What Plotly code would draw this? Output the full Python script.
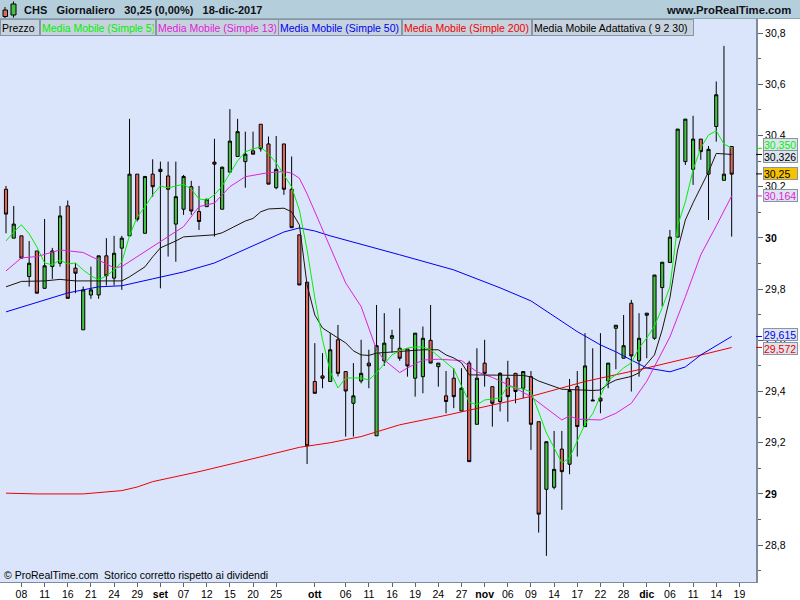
import plotly.graph_objects as go

# ---------------- data ----------------
dates = [
    "2017-08-04", "2017-08-07", "2017-08-08", "2017-08-09", "2017-08-10", "2017-08-11", "2017-08-14", "2017-08-15",
    "2017-08-16", "2017-08-17", "2017-08-18", "2017-08-21", "2017-08-22", "2017-08-23", "2017-08-24", "2017-08-25",
    "2017-08-28", "2017-08-29", "2017-08-30", "2017-08-31", "2017-09-01", "2017-09-05", "2017-09-06", "2017-09-07",
    "2017-09-08", "2017-09-11", "2017-09-12", "2017-09-13", "2017-09-14", "2017-09-15", "2017-09-18", "2017-09-19",
    "2017-09-20", "2017-09-21", "2017-09-22", "2017-09-25", "2017-09-26", "2017-09-27", "2017-09-28", "2017-09-29",
    "2017-10-02", "2017-10-03", "2017-10-04", "2017-10-05", "2017-10-06", "2017-10-09", "2017-10-10", "2017-10-11",
    "2017-10-12", "2017-10-13", "2017-10-16", "2017-10-17", "2017-10-18", "2017-10-19", "2017-10-20", "2017-10-23",
    "2017-10-24", "2017-10-25", "2017-10-26", "2017-10-27", "2017-10-30", "2017-10-31", "2017-11-01", "2017-11-02",
    "2017-11-03", "2017-11-06", "2017-11-07", "2017-11-08", "2017-11-09", "2017-11-10", "2017-11-13", "2017-11-14",
    "2017-11-15", "2017-11-16", "2017-11-17", "2017-11-20", "2017-11-21", "2017-11-22", "2017-11-24", "2017-11-27",
    "2017-11-28", "2017-11-29", "2017-11-30", "2017-12-01", "2017-12-04", "2017-12-05", "2017-12-06", "2017-12-07",
    "2017-12-08", "2017-12-11", "2017-12-12", "2017-12-13", "2017-12-14", "2017-12-15", "2017-12-18",
]

opens = [
    30.190, 29.999, 30.008, 29.849, 29.949, 29.803, 29.888, 29.901, 30.125, 29.882,
    29.641, 29.777, 29.777, 29.930, 29.843, 29.960, 30.008, 30.249, 30.018, 30.249,
    30.268, 30.242, 30.054, 30.112, 30.200, 30.103, 30.122, 30.296, 30.112, 30.257,
    30.318, 30.298, 30.340, 30.444, 30.367, 30.196, 30.367, 30.190, 30.012, 29.827,
    29.439, 29.461, 29.439, 29.602, 29.478, 29.354, 29.441, 29.511, 29.227, 29.520,
    29.608, 29.569, 29.566, 29.452, 29.458, 29.600, 29.497, 29.383, 29.452, 29.324,
    29.511, 29.272, 29.511, 29.419, 29.361, 29.452, 29.471, 29.413, 29.458, 29.282,
    29.018, 29.026, 29.175, 29.116, 29.419, 29.263, 29.363, 29.374, 29.441, 29.647,
    29.530, 29.745, 29.520, 29.698, 29.608, 29.806, 29.904, 30.003, 30.298, 30.268,
    30.386, 30.249, 30.435, 30.225, 30.357,
]
highs = [
    30.203, 30.125, 30.008, 29.988, 29.949, 30.074, 29.961, 30.125, 30.146, 29.901,
    29.810, 29.888, 29.930, 29.999, 30.008, 30.008, 30.465, 30.249, 30.240, 30.307,
    30.298, 30.298, 30.298, 30.246, 30.223, 30.203, 30.151, 30.387, 30.279, 30.503,
    30.465, 30.415, 30.415, 30.444, 30.396, 30.398, 30.367, 30.318, 30.012, 29.827,
    29.589, 29.550, 29.628, 29.660, 29.478, 29.511, 29.602, 29.563, 29.738, 29.706,
    29.641, 29.725, 29.566, 29.628, 29.654, 29.738, 29.511, 29.480, 29.491, 29.491,
    29.520, 29.569, 29.602, 29.419, 29.475, 29.520, 29.471, 29.480, 29.480, 29.282,
    29.204, 29.246, 29.246, 29.449, 29.480, 29.628, 29.569, 29.628, 29.511, 29.659,
    29.699, 29.758, 29.706, 29.706, 29.855, 29.905, 30.031, 30.425, 30.464, 30.477,
    30.386, 30.359, 30.611, 30.750, 30.357,
]
lows = [
    30.018, 29.999, 29.921, 29.810, 29.784, 29.803, 29.840, 29.888, 29.764, 29.784,
    29.641, 29.762, 29.762, 29.814, 29.814, 29.797, 30.008, 30.064, 30.018, 30.161,
    29.803, 29.927, 29.907, 30.090, 30.090, 30.031, 30.122, 30.005, 30.112, 30.257,
    30.318, 30.196, 30.327, 30.337, 30.210, 30.190, 30.168, 30.040, 29.816, 29.117,
    29.393, 29.413, 29.439, 29.459, 29.224, 29.224, 29.432, 29.413, 29.227, 29.500,
    29.552, 29.520, 29.458, 29.380, 29.393, 29.511, 29.419, 29.315, 29.335, 29.324,
    29.126, 29.272, 29.419, 29.263, 29.322, 29.282, 29.354, 29.374, 29.172, 28.849,
    28.758, 29.018, 28.938, 29.077, 29.146, 29.263, 29.363, 29.315, 29.413, 29.487,
    29.530, 29.400, 29.458, 29.530, 29.602, 29.732, 29.904, 30.003, 30.285, 30.207,
    30.305, 30.070, 30.376, 30.225, 30.005,
]
closes = [
    30.093, 30.054, 29.921, 29.901, 29.784, 29.891, 29.949, 30.086, 29.764, 29.862,
    29.797, 29.797, 29.930, 29.852, 29.940, 29.999, 30.249, 30.073, 30.240, 30.200,
    30.259, 30.190, 30.161, 30.240, 30.105, 30.064, 30.151, 30.288, 30.276, 30.378,
    30.415, 30.327, 30.327, 30.348, 30.210, 30.268, 30.190, 30.040, 29.816, 29.188,
    29.393, 29.452, 29.563, 29.471, 29.402, 29.383, 29.471, 29.500, 29.579, 29.589,
    29.618, 29.530, 29.500, 29.628, 29.608, 29.511, 29.511, 29.361, 29.380, 29.413,
    29.126, 29.452, 29.471, 29.354, 29.471, 29.380, 29.400, 29.478, 29.272, 28.921,
    29.204, 29.096, 29.087, 29.404, 29.263, 29.500, 29.366, 29.363, 29.511, 29.659,
    29.579, 29.539, 29.608, 29.706, 29.855, 29.905, 30.003, 30.425, 30.464, 30.386,
    30.337, 30.346, 30.559, 30.249, 30.249,
]

# Simple 5 (read at every session)
ma5 = [
    29.988, 30.023, 30.051, 30.016, 29.965, 29.902, 29.895, 29.914, 29.898, 29.902,
    29.875, 29.852, 29.836, 29.852, 29.875, 29.906, 30.008, 30.082, 30.121, 30.168,
    30.203, 30.195, 30.203, 30.209, 30.191, 30.152, 30.148, 30.168, 30.203, 30.250,
    30.301, 30.336, 30.348, 30.355, 30.328, 30.293, 30.246, 30.199, 30.109, 29.953,
    29.766, 29.602, 29.477, 29.414, 29.453, 29.453, 29.453, 29.445, 29.473, 29.508,
    29.543, 29.559, 29.570, 29.574, 29.574, 29.563, 29.539, 29.512, 29.488, 29.422,
    29.359, 29.348, 29.367, 29.371, 29.375, 29.422, 29.414, 29.410, 29.398, 29.320,
    29.238, 29.180, 29.121, 29.141, 29.207, 29.273, 29.313, 29.383, 29.445, 29.465,
    29.492, 29.512, 29.570, 29.609, 29.656, 29.727, 29.809, 30.047, 30.141, 30.266,
    30.352, 30.402, 30.418, 30.367, 30.350,
]

# Simple 13 (read at selected sessions)
ma13_dates = [
    "2017-08-04", "2017-08-08", "2017-08-10", "2017-08-15", "2017-08-18", "2017-08-22", "2017-08-24", "2017-08-25",
    "2017-08-30", "2017-09-01", "2017-09-07", "2017-09-11", "2017-09-13", "2017-09-15", "2017-09-19", "2017-09-22",
    "2017-09-26", "2017-09-27", "2017-09-28", "2017-09-29", "2017-10-02", "2017-10-04", "2017-10-06", "2017-10-10",
    "2017-10-12", "2017-10-13", "2017-10-17", "2017-10-18", "2017-10-20", "2017-10-24", "2017-10-27", "2017-10-31",
    "2017-11-02", "2017-11-07", "2017-11-09", "2017-11-15", "2017-11-16", "2017-11-17", "2017-11-22", "2017-11-27",
    "2017-11-29", "2017-12-01", "2017-12-06", "2017-12-08", "2017-12-12", "2017-12-14", "2017-12-18",
]
ma13_values = [
    29.871, 29.922, 29.927, 29.953, 29.943, 29.914, 29.883, 29.888,
    29.946, 29.986, 30.044, 30.122, 30.136, 30.200, 30.239, 30.255,
    30.259, 30.253, 30.233, 30.172, 30.102, 29.961, 29.824, 29.732,
    29.563, 29.523, 29.474, 29.492, 29.523, 29.526, 29.521, 29.477,
    29.455, 29.413, 29.380, 29.289, 29.305, 29.292, 29.289, 29.315,
    29.354, 29.440, 29.613, 29.770, 29.934, 30.047, 30.164,
]

# Simple 50
ma50_dates = [
    "2017-08-04", "2017-08-16", "2017-08-22", "2017-08-25", "2017-08-31", "2017-09-07", "2017-09-13", "2017-09-20",
    "2017-09-26", "2017-09-28", "2017-10-02", "2017-10-04", "2017-10-09", "2017-10-17", "2017-10-26", "2017-11-03",
    "2017-11-09", "2017-11-17", "2017-11-22", "2017-11-27", "2017-11-29", "2017-12-01", "2017-12-06", "2017-12-08",
    "2017-12-12", "2017-12-18",
]
ma50_values = [
    29.711, 29.785, 29.809, 29.813, 29.840, 29.867, 29.902, 29.969,
    30.023, 30.039, 30.027, 30.008, 29.984, 29.934, 29.875, 29.805,
    29.754, 29.634, 29.582, 29.555, 29.523, 29.492, 29.477, 29.496,
    29.543, 29.615,
]

# Simple 200
ma200_dates = [
    "2017-08-04", "2017-08-10", "2017-08-18", "2017-08-23", "2017-08-25", "2017-08-29", "2017-08-31", "2017-09-05",
    "2017-09-11", "2017-09-18", "2017-09-22", "2017-09-28", "2017-10-04", "2017-10-10", "2017-10-17", "2017-10-25",
    "2017-11-03", "2017-11-09", "2017-11-20", "2017-12-01", "2017-12-11", "2017-12-18",
]
ma200_values = [
    29.003, 29.000, 29.000, 29.009, 29.013, 29.027, 29.048, 29.061,
    29.087, 29.123, 29.152, 29.182, 29.200, 29.224, 29.270, 29.307,
    29.354, 29.381, 29.439, 29.492, 29.535, 29.572,
]

# Media Mobile Adattativa (9 2 30)
ama_dates = [
    "2017-08-04", "2017-08-08", "2017-08-11", "2017-08-15", "2017-08-17", "2017-08-25", "2017-08-28", "2017-08-29",
    "2017-08-30", "2017-08-31", "2017-09-01", "2017-09-06", "2017-09-07", "2017-09-11", "2017-09-13", "2017-09-14",
    "2017-09-15", "2017-09-18", "2017-09-19", "2017-09-20", "2017-09-21", "2017-09-22", "2017-09-26", "2017-09-27",
    "2017-09-28", "2017-09-29", "2017-10-02", "2017-10-03", "2017-10-04", "2017-10-05", "2017-10-06", "2017-10-09",
    "2017-10-10", "2017-10-11", "2017-10-12", "2017-10-17", "2017-10-20", "2017-10-24", "2017-10-25", "2017-10-26",
    "2017-10-27", "2017-10-30", "2017-11-08", "2017-11-09", "2017-11-10", "2017-11-15", "2017-11-21", "2017-11-22",
    "2017-11-24", "2017-11-27", "2017-11-29", "2017-11-30", "2017-12-01", "2017-12-04", "2017-12-05", "2017-12-06",
    "2017-12-07", "2017-12-08", "2017-12-11", "2017-12-12", "2017-12-13", "2017-12-14", "2017-12-15", "2017-12-18",
]
ama_values = [
    29.809, 29.830, 29.832, 29.838, 29.832, 29.832, 29.848, 29.867,
    29.887, 29.926, 29.961, 29.988, 30.004, 30.008, 30.012, 30.020,
    30.035, 30.053, 30.066, 30.076, 30.102, 30.113, 30.116, 30.102,
    30.051, 29.816, 29.699, 29.648, 29.627, 29.609, 29.590, 29.559,
    29.543, 29.541, 29.550, 29.556, 29.563, 29.563, 29.543, 29.531,
    29.512, 29.465, 29.463, 29.457, 29.441, 29.409, 29.404, 29.406,
    29.430, 29.445, 29.459, 29.473, 29.508, 29.543, 29.641, 29.766,
    29.953, 30.070, 30.137, 30.199, 30.258, 30.330, 30.328, 30.326,
]

tick_dates = [
    "2017-08-08", "2017-08-11", "2017-08-16", "2017-08-21", "2017-08-24", "2017-08-29", "2017-09-01", "2017-09-07",
    "2017-09-12", "2017-09-15", "2017-09-20", "2017-09-25", "2017-10-02", "2017-10-06", "2017-10-11", "2017-10-16",
    "2017-10-19", "2017-10-24", "2017-10-27", "2017-11-01", "2017-11-06", "2017-11-09", "2017-11-14", "2017-11-17",
    "2017-11-22", "2017-11-28", "2017-12-01", "2017-12-06", "2017-12-11", "2017-12-14", "2017-12-19",
]
tick_labels = [
    "08", "11", "16", "21", "24", "29", "<b>set</b>", "07", "12", "15", "20", "25", "<b>ott</b>", "06", "11", "16",
    "19", "24", "27", "<b>nov</b>", "06", "09", "14", "17", "22", "28", "<b>dic</b>", "06", "11", "14", "19",
]

price_ticks = [28.8, 29.0, 29.2, 29.4, 29.6, 29.8, 30.0, 30.2, 30.4, 30.6, 30.8]
price_tick_labels = ["28,8", "<b>29</b>", "29,2", "29,4", "29,6", "29,8", "<b>30</b>", "30,2", "30,4", "30,6", "30,8"]
price_minor = [28.7, 28.9, 29.1, 29.3, 29.5, 29.7, 29.9, 30.1, 30.3, 30.5, 30.7]

legend_names = ["Prezzo", "Media Mobile (Simple 5)", "Media Mobile (Simple 13)", "Media Mobile (Simple 50)",
                "Media Mobile (Simple 200)", "Media Mobile Adattativa ( 9 2 30)"]

last_labels = ["30,350", "30,326", "30,25", "30,164", "29,615", "29,572"]
last_values = [30.350, 30.326, 30.25, 30.164, 29.615, 29.572]

# ---------------- styling ----------------
FONT = "Liberation Sans, Arial, sans-serif"
UP = "#45c245"
DOWN = "#dc695d"
C_MA5 = "#00f000"
C_MA13 = "#e020d8"
C_MA50 = "#0000f0"
C_MA200 = "#f00000"
C_AMA = "#1e1408"
BG = "#dae5fb"

pos = {d: i for i, d in enumerate(dates)}


def xpos(d):
    return pos.get(d, len(dates))


x = list(range(len(dates)))

PLOT_W, PLOT_H, TOP, BOTTOM = 756, 563, 19, 582


def px(X):
    return X / PLOT_W


def py(Y):
    return (BOTTOM - Y) / PLOT_H


fig = go.Figure()
fig.add_trace(go.Candlestick(
    x=x, open=opens, high=highs, low=lows, close=closes,
    increasing=dict(fillcolor=UP, line=dict(color="black", width=1)),
    decreasing=dict(fillcolor=DOWN, line=dict(color="black", width=1)),
    whiskerwidth=0, hoverinfo="skip", showlegend=False,
))

for dts, vals, col in [
    (ma200_dates, ma200_values, C_MA200),
    (ma50_dates, ma50_values, C_MA50),
    (ma13_dates, ma13_values, C_MA13),
    (ama_dates, ama_values, C_AMA),
]:
    fig.add_trace(go.Scatter(x=[xpos(d) for d in dts], y=vals, mode="lines",
                             line=dict(color=col, width=1), hoverinfo="skip", showlegend=False))
fig.add_trace(go.Scatter(x=x, y=ma5, mode="lines", line=dict(color=C_MA5, width=1),
                         hoverinfo="skip", showlegend=False))

shapes = []
annotations = []

# header bar
shapes.append(dict(type="rect", xref="paper", yref="paper", x0=px(-2), x1=px(802), y0=py(19), y1=py(-2),
                   fillcolor="#b4cfdb", line=dict(width=0), layer="above"))
shapes.append(dict(type="line", xref="paper", yref="paper", x0=px(-2), x1=px(802), y0=py(18.5), y1=py(18.5),
                   line=dict(color="#8fa6b4", width=1), layer="above"))
# icon
shapes.append(dict(type="line", xref="paper", yref="paper", x0=px(5), x1=px(5), y0=py(7), y1=py(18),
                   line=dict(color="black", width=1), layer="above"))
shapes.append(dict(type="rect", xref="paper", yref="paper", x0=px(3), x1=px(7.5), y0=py(10), y1=py(16.5),
                   fillcolor=DOWN, line=dict(color="black", width=1), layer="above"))
shapes.append(dict(type="line", xref="paper", yref="paper", x0=px(13.5), x1=px(13.5), y0=py(1.5), y1=py(17.5),
                   line=dict(color="black", width=1), layer="above"))
shapes.append(dict(type="rect", xref="paper", yref="paper", x0=px(11), x1=px(16), y0=py(4), y1=py(15),
                   fillcolor=UP, line=dict(color="black", width=1), layer="above"))

annotations.append(dict(xref="paper", yref="paper", x=px(22), y=py(10), xanchor="left", yanchor="middle",
                        text="<b>CHS\u00a0\u00a0\u00a0Giornaliero\u00a0\u00a0\u00a030,25 (0,00%)\u00a0\u00a0\u00a018-dic-2017</b>",
                        showarrow=False, font=dict(family=FONT, size=11, color="#101018")))
annotations.append(dict(xref="paper", yref="paper", x=px(793), y=py(10), xanchor="right", yanchor="middle",
                        text="<b>www.ProRealTime.com</b>", showarrow=False,
                        font=dict(family=FONT, size=11.3, color="#101018")))

# legend boxes
legend_colors = ["#000000", C_MA5, C_MA13, C_MA50, C_MA200, "#000000"]
legend_edges = [0, 39.5, 155.5, 278, 401.5, 531.5, 693.5]
for name, col, l, r in zip(legend_names, legend_colors, legend_edges[:-1], legend_edges[1:]):
    annotations.append(dict(xref="paper", yref="paper", x=px(l), y=py(19), xanchor="left", yanchor="top",
                            text=name, showarrow=False, width=r - l - 4, height=13, align="left",
                            bgcolor="#c6d3de", bordercolor="#8796a4", borderwidth=1, borderpad=1,
                            font=dict(family=FONT, size=10.5, color=col)))

# bottom-left note
annotations.append(dict(xref="paper", yref="paper", x=px(2), y=py(575), xanchor="left", yanchor="middle",
                        text="\u00a9 ProRealTime.com\u00a0 Storico corretto rispetto ai dividendi", showarrow=False,
                        font=dict(family=FONT, size=10.5, color="black")))

# last-value boxes on the price axis
label_colors = [C_MA5, "#000000", "#000000", C_MA13, C_MA50, C_MA200]
label_bg = ["#dce4ee", "#dce4ee", "#f7c200", "#dce4ee", "#dce4ee", "#dce4ee"]
label_shift = [4, -2.5, 0, 0, 1.5, -1.5]
for lab, val, col, bg, sh in zip(last_labels, last_values, label_colors, label_bg, label_shift):
    annotations.append(dict(xref="paper", yref="y", x=px(763), y=val, yshift=sh, xanchor="left",
                            yanchor="middle", text=lab, showarrow=False, width=33, height=11, align="left",
                            bgcolor=bg, bordercolor="#8796a4", borderwidth=1, borderpad=0,
                            font=dict(family=FONT, size=10.5, color=col)))
    shapes.append(dict(type="line", xref="paper", yref="y", x0=px(756), x1=px(762), y0=val, y1=val,
                       line=dict(color=col, width=1)))

fig.update_layout(
    width=800, height=600,
    margin=dict(l=0, r=44, t=19, b=18, pad=0, autoexpand=False),
    paper_bgcolor="white", plot_bgcolor=BG,
    showlegend=False, boxgap=0.42,
    font=dict(family=FONT, size=10.5, color="black"),
    shapes=shapes, annotations=annotations,
    xaxis=dict(
        range=[-0.777, 97.15], rangeslider=dict(visible=False), automargin=False,
        tickmode="array", tickvals=[xpos(d) for d in tick_dates], ticktext=tick_labels,
        ticks="outside", ticklen=4, tickcolor="#5a6570", tickwidth=1, ticklabelstandoff=-2,
        showgrid=False, zeroline=False, showline=True, linecolor="#7d8c9b", linewidth=1, mirror=True,
        tickfont=dict(family=FONT, size=10.5, color="black"),
    ),
    yaxis=dict(
        side="right", range=[28.656, 30.855], automargin=False,
        tickmode="array", tickvals=price_ticks, ticktext=price_tick_labels,
        ticks="outside", ticklen=5, tickcolor="#5a6570", tickwidth=1,
        minor=dict(tickmode="array", tickvals=price_minor, ticks="outside", ticklen=3, tickcolor="#5a6570"),
        showgrid=False, zeroline=False, showline=True, linecolor="#7d8c9b", linewidth=2, mirror=True,
        tickfont=dict(family=FONT, size=10.5, color="black"),
    ),
)

fig.write_html("out.html", config={"displayModeBar": False},
               post_script="document.body.style.margin='0';document.body.style.overflow='hidden';")
